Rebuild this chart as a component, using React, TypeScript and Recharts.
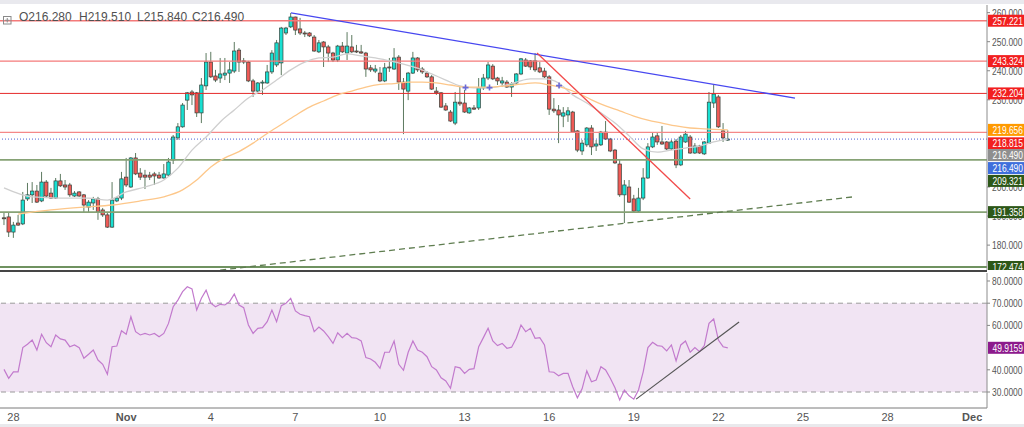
import React from 'react';
import { ComposedChart, Bar, Line, Scatter, XAxis, YAxis, ReferenceLine, ReferenceArea } from 'recharts';

// 4h candles, index 0 = Oct 27 16:00
const OPEN = [
  189.4, 189.7, 184.5, 187.6, 187.3, 195.9, 197.3, 198.6, 195.2, 201.7,
  197.9, 196.2, 202.1, 200.7, 200.7, 196.9, 198.3, 197.3, 193.1, 194.5,
  195.9, 192.1, 190.4, 186.2, 195.2, 196.2, 203.4, 200.0, 210.0, 204.8,
  204.1, 204.1, 204.5, 204.1, 203.1, 204.1, 209.3, 216.9, 220.7, 229.9,
  232.7, 232.4, 225.5, 234.8, 243.0, 238.2, 237.5, 238.5, 239.2, 239.9,
  247.1, 243.4, 243.0, 236.5, 233.0, 235.8, 235.8, 239.6, 242.0, 242.7,
  253.0, 255.1, 258.5, 254.4, 253.0, 253.0, 251.6, 246.5, 249.9, 248.2,
  246.1, 243.7, 248.5, 246.1, 248.2, 246.8, 246.5, 246.1, 241.0, 239.9,
  239.2, 236.5, 241.3, 240.6, 244.7, 236.1, 233.0, 239.2, 244.4, 240.6,
  239.2, 237.9, 233.0, 232.4, 227.9, 225.8, 222.0, 229.2, 228.9, 225.5,
  227.2, 227.2, 234.1, 237.5, 241.6, 237.5, 235.8, 236.1, 234.4, 235.8,
  238.9, 243.7, 243.4, 243.4, 241.0, 239.9, 237.9, 226.8, 226.5, 224.4,
  224.8, 225.8, 219.3, 212.4, 214.5, 220.3, 214.1, 214.5, 218.9, 216.5,
  212.7, 207.9, 197.3, 200.0, 195.9, 191.7, 196.2, 203.1, 213.8, 217.6,
  215.5, 215.5, 213.1, 215.8, 207.6, 215.5, 217.2, 211.7, 214.1, 211.4,
  215.1, 228.9, 231.0, 219.3, 216.28,
];
const HIGH = [
  191.1, 191.1, 188.0, 190.4, 198.3, 201.4, 201.7, 200.7, 205.2, 202.4,
  199.7, 203.1, 204.5, 202.4, 201.4, 198.6, 198.6, 197.6, 195.5, 196.6,
  196.6, 192.8, 191.1, 201.7, 196.6, 205.2, 210.0, 210.3, 211.7, 206.5,
  205.9, 205.2, 205.2, 205.2, 207.9, 210.0, 217.9, 222.0, 228.9, 232.7,
  233.4, 232.7, 237.5, 246.1, 246.5, 240.3, 244.4, 244.4, 243.0, 249.9,
  247.8, 244.4, 243.4, 237.2, 236.1, 236.8, 242.0, 247.1, 250.6, 255.1,
  255.1, 259.9, 258.6, 258.2, 253.7, 253.3, 252.3, 250.6, 250.2, 248.9,
  246.5, 248.9, 249.9, 253.3, 252.3, 248.9, 248.9, 246.5, 242.0, 242.0,
  241.3, 242.7, 244.4, 247.8, 245.4, 237.5, 239.6, 246.5, 244.7, 241.3,
  239.9, 238.5, 234.4, 232.7, 228.9, 226.5, 232.7, 234.4, 233.4, 227.5,
  228.2, 237.5, 238.9, 243.0, 242.3, 237.9, 237.9, 236.8, 236.1, 239.2,
  244.4, 244.4, 243.7, 246.1, 243.0, 241.0, 238.5, 230.6, 228.2, 227.5,
  227.5, 226.2, 219.6, 216.2, 220.6, 221.3, 216.2, 219.3, 222.7, 216.9,
  213.1, 209.3, 202.4, 202.4, 197.3, 199.7, 206.5, 215.1, 218.9, 218.9,
  221.0, 215.8, 216.2, 216.5, 217.9, 219.3, 217.9, 215.1, 214.5, 215.8,
  232.7, 235.1, 231.7, 222.0, 219.51,
];
const LOW = [
  186.9, 182.8, 182.5, 186.6, 186.9, 195.2, 194.5, 194.5, 194.8, 196.2,
  195.9, 195.9, 200.0, 199.0, 196.6, 196.6, 196.6, 191.1, 191.4, 192.1,
  188.7, 189.7, 185.9, 185.9, 194.8, 195.5, 200.0, 199.7, 204.1, 202.4,
  199.3, 202.4, 200.7, 202.8, 202.9, 203.8, 207.9, 216.2, 220.4, 226.5,
  228.2, 224.1, 222.0, 233.4, 237.5, 236.1, 235.8, 236.8, 235.8, 239.2,
  239.6, 242.3, 236.1, 231.0, 232.4, 231.7, 235.5, 238.9, 241.3, 238.5,
  252.3, 254.7, 252.3, 252.3, 251.6, 251.6, 246.5, 246.1, 241.3, 243.0,
  243.0, 243.0, 246.1, 243.7, 246.1, 246.1, 245.8, 237.9, 239.6, 239.2,
  236.1, 236.1, 239.6, 240.3, 233.4, 218.2, 229.9, 238.9, 239.6, 238.9,
  237.5, 233.4, 231.7, 227.2, 226.2, 222.4, 221.3, 227.9, 225.5, 225.2,
  226.5, 226.5, 233.4, 236.8, 236.8, 235.1, 234.4, 234.1, 231.0, 235.5,
  238.5, 241.3, 240.3, 239.6, 239.2, 237.5, 224.8, 225.5, 215.1, 220.6,
  222.4, 218.6, 212.0, 211.0, 213.8, 211.0, 212.4, 214.1, 216.2, 212.0,
  207.9, 196.6, 187.6, 194.5, 191.1, 191.4, 195.5, 202.8, 213.4, 214.5,
  214.5, 212.7, 212.7, 206.5, 207.2, 215.2, 211.4, 211.4, 211.4, 211.0,
  214.8, 227.2, 220.3, 215.5, 215.84,
];
const CLOSE = [
  189.3, 184.5, 186.9, 186.9, 195.5, 197.3, 198.6, 194.8, 201.7, 196.9,
  196.2, 202.1, 200.4, 200.0, 197.3, 197.9, 196.9, 193.8, 194.8, 195.9,
  191.4, 190.4, 186.2, 195.5, 196.2, 202.8, 200.7, 210.0, 204.5, 203.4,
  203.4, 203.4, 203.8, 203.1, 204.5, 208.6, 217.2, 220.7, 228.2, 232.4,
  231.7, 225.5, 235.1, 243.0, 237.9, 236.8, 238.9, 239.2, 240.3, 246.8,
  243.0, 243.0, 236.5, 233.0, 235.8, 236.1, 239.6, 246.1, 249.6, 254.7,
  254.7, 258.5, 254.0, 253.0, 252.7, 252.0, 246.8, 249.6, 248.2, 246.1,
  243.7, 248.5, 246.5, 248.5, 246.5, 246.5, 246.1, 240.6, 240.3, 240.6,
  236.5, 241.0, 241.0, 244.4, 236.1, 233.7, 239.2, 244.4, 240.3, 239.6,
  237.9, 233.7, 232.4, 227.5, 226.5, 222.7, 229.2, 228.6, 225.8, 227.2,
  226.8, 234.1, 237.5, 242.0, 237.2, 236.5, 236.5, 234.4, 235.5, 238.9,
  244.1, 241.6, 241.3, 240.3, 239.6, 237.9, 226.8, 226.2, 224.8, 225.5,
  226.2, 218.9, 212.7, 215.1, 220.3, 213.8, 214.8, 218.9, 216.5, 212.4,
  208.3, 197.3, 200.7, 194.8, 191.7, 196.2, 203.1, 213.8, 217.2, 215.5,
  214.8, 213.1, 215.5, 207.6, 217.2, 218.2, 211.7, 214.1, 211.7, 215.5,
  229.2, 232.0, 220.7, 216.9, 216.49,
];

const RSI = [
  40.2, 36.2, 39.1, 39.1, 50.0, 51.5, 53.4, 48.9, 56.0, 52.2,
  50.4, 55.7, 53.9, 53.4, 50.4, 51.2, 50.0, 45.2, 47.0, 48.9,
  44.4, 42.5, 38.0, 50.4, 50.7, 57.6, 56.0, 63.9, 57.2, 55.7,
  56.4, 55.7, 56.4, 54.9, 56.4, 60.9, 68.4, 71.4, 75.2, 77.4,
  76.4, 66.9, 72.2, 75.9, 70.0, 68.4, 69.5, 69.2, 70.7, 74.1,
  69.2, 68.0, 60.2, 56.4, 58.7, 59.0, 61.7, 66.9, 61.7, 68.9,
  70.0, 72.2, 66.5, 65.0, 64.4, 63.9, 57.2, 59.3, 57.5, 54.9,
  51.9, 56.7, 54.5, 56.4, 54.5, 54.2, 53.0, 45.5, 44.9, 43.4,
  40.7, 47.9, 47.9, 53.0, 42.5, 39.8, 47.9, 53.0, 48.9, 47.9,
  45.9, 41.4, 39.9, 36.4, 35.0, 31.7, 41.4, 40.9, 38.4, 40.2,
  40.5, 50.4, 54.5, 58.7, 53.0, 50.9, 51.9, 49.7, 50.2, 54.2,
  60.2, 57.2, 58.7, 54.2, 54.5, 51.2, 39.1, 38.9, 37.3, 38.4,
  38.4, 32.4, 27.4, 31.4, 39.5, 34.6, 35.4, 41.4, 39.9, 36.2,
  31.9, 26.4, 30.9, 28.3, 26.8, 30.9, 39.1, 50.0, 52.4, 50.9,
  50.6, 48.5, 51.2, 44.0, 51.2, 53.0, 47.9, 50.0, 48.2, 50.9,
  60.9, 62.9, 53.4, 50.4, 49.9,
];

// moving averages read at every few candles
const MA20_AT = [0, 6, 12, 18, 22, 26, 30, 34, 37, 40, 43, 46, 49, 52, 55, 58, 61, 64, 67, 70, 73, 76, 79, 82, 85, 88, 91, 94, 97, 100, 103, 106, 109, 112, 115, 118, 121, 124, 127, 130, 133, 136, 139, 142, 145, 148, 151, 154];
const MA20 = [199.7, 196.6, 196.2, 196.2, 195.5, 198.3, 200.0, 202.4, 206.5, 212.7, 217.2, 222.4, 226.5, 230.6, 233.4, 236.8, 240.3, 243.0, 244.4, 244.7, 245.8, 245.1, 244.4, 243.4, 242.3, 240.9, 238.9, 236.8, 234.8, 234.1, 234.1, 234.8, 236.1, 237.2, 237.2, 235.8, 231.7, 228.9, 225.5, 222.0, 217.6, 213.1, 212.0, 212.7, 213.4, 214.1, 215.5, 216.5];
const MA50_AT = [3, 10, 17, 23, 29, 34, 38, 41, 44, 47, 50, 53, 56, 59, 62, 65, 68, 71, 74, 77, 80, 83, 86, 89, 92, 95, 98, 101, 104, 107, 110, 113, 116, 119, 122, 125, 128, 131, 134, 137, 140, 143, 146, 149, 154];
const MA50 = [190.7, 192.1, 193.1, 193.8, 195.2, 196.6, 199.0, 202.4, 206.9, 210.0, 212.2, 215.1, 218.4, 221.5, 224.6, 227.5, 229.6, 231.7, 233.0, 234.4, 235.3, 235.6, 236.1, 236.1, 235.8, 235.1, 234.4, 234.4, 234.4, 234.8, 235.4, 235.8, 235.1, 234.1, 232.4, 230.0, 227.9, 226.2, 224.4, 223.0, 222.0, 221.0, 220.3, 220.0, 219.66];
const CROSS_AT = [98.2, 103.3, 118.1];
const CROSS_PRICE = [234.2, 234.2, 234.9];

const DAY_TICKS = [2, 26, 44, 62, 80, 98, 116, 134, 152, 170, 188, 206];
const DAY_LABELS = ['28', 'Nov', '4', '7', '10', '13', '16', '19', '22', '25', '28', 'Dec'];
const PRICE_TICKS = [180, 190, 200, 230, 240, 250, 260];
const RSI_TICKS = [30, 40, 60, 70, 80];

const RED_LEVELS = [257.221, 243.324, 232.204, 218.815];
const GREEN_LEVELS = [209.321, 191.358, 172.474];
const LAST_PRICE = 216.49;
const MA20_LAST = 216.49;
const MA50_LAST = 219.656;
const RSI_LAST = 49.9159;

// drawn trend lines: [candle index, value]
const TREND_BLUE = [[61.06, 259.9], [168.3, 230.6]];
const TREND_RED = [[113.4, 246.1], [146.0, 195.9]];
const TREND_SUPPORT = [[46.0, 171.4], [180.6, 196.6]];
const TREND_RSI = [[134.5, 26.8], [156.4, 61.5]];

const FONT = '"Liberation Sans", Arial, sans-serif';
const X_DOMAIN = [-0.85, 209.15];
const PRICE_DOMAIN = [171.44, 262.63];
const RSI_DOMAIN = [22.8, 83.6];
const UP = '#18e0d2';
const DOWN = '#f05a56';
const WICK = '#5d7a60';

const candles = OPEN.map((o, k) => ({ i: k, open: o, high: HIGH[k], low: LOW[k], close: CLOSE[k], range: [LOW[k], HIGH[k]] }));
const ma20Data = MA20_AT.map((i, k) => ({ i, v: MA20[k] }));
const ma50Data = MA50_AT.map((i, k) => ({ i, v: MA50[k] }));
const crossData = CROSS_AT.map((i, k) => ({ i, p: CROSS_PRICE[k] }));
const rsiData = RSI.map((v, k) => ({ i: k, rsi: v }));
const seg = (s: number[][]) => s.map(([x, y]) => ({ x, y }));

const Candle = (props: any) => {
  const { x, y, width, height, payload } = props;
  if (!payload) return null;
  const { open, close, high, low } = payload;
  const top = Math.min(y, y + height);
  const h = Math.abs(height);
  const ratio = high > low ? h / (high - low) : 0;
  const at = (v: number) => top + (high - v) * ratio;
  const cx = x + width / 2;
  const bTop = at(Math.max(open, close));
  const bBot = at(Math.min(open, close));
  return (
    <g>
      <line x1={cx} x2={cx} y1={top} y2={top + h} stroke={WICK} strokeWidth={1} />
      <rect x={cx - 1.7} y={bTop} width={3.4} height={Math.max(1, bBot - bTop)} fill={close >= open ? UP : DOWN} stroke="#33403a" strokeWidth={0.7} />
    </g>
  );
};

const Cross = (props: any) => {
  const { cx, cy } = props;
  return <path d={`M${cx - 3},${cy}H${cx + 3}M${cx},${cy - 3}V${cy + 3}`} stroke="#6a6ad8" strokeWidth={1.6} />;
};

const makeTag = (text: string, bg: string, dy = 0) => (props: any) => {
  const vb = props.viewBox || {};
  const x = (vb.x || 0) + (vb.width || 0) + 1;
  const y = (vb.y || 0) + dy;
  return (
    <g>
      <rect x={x} y={y - 6} width={37} height={12} fill={bg} />
      <text x={x + 4.5} y={y + 4} fill="#fff" fontSize={10.5} fontFamily={FONT} textLength={30.5} lengthAdjust="spacingAndGlyphs">{text}</text>
    </g>
  );
};

const AxisTick = ({ digits }: { digits: number }) => (props: any) => (
  <text x={props.x} y={props.y + 4} fill="#555" fontSize={10.5} fontFamily={FONT} textLength={30.5} lengthAdjust="spacingAndGlyphs">
    {Number(props.payload.value).toFixed(digits)}
  </text>
);

const DayTick = (props: any) => {
  const label = DAY_LABELS[DAY_TICKS.indexOf(props.payload.value)] || '';
  const month = label === 'Nov' || label === 'Dec';
  return (
    <text x={props.x} y={props.y + 13} textAnchor="middle" fill="#555" fontSize={11} fontWeight={month ? 700 : 400} fontFamily={FONT}>{label}</text>
  );
};

const redStyle = ['#f47a7a', '#f47a7a', '#e52a2a', '#f58888'];
const greenStyle = ['#86a275', '#86a275', '#3f6e2b'];

// invisible axes so the price tags sit above the tick labels
const OverlayAxes = ({ domain }: { domain: number[] }) => (
  <>
    <XAxis type="number" dataKey="i" domain={X_DOMAIN} hide allowDataOverflow />
    <YAxis orientation="right" width={37} domain={domain} allowDataOverflow tick={false} tickLine={false} axisLine={false} />
  </>
);

export default function App() {
  const header = [
    ['O', OPEN[OPEN.length - 1]],
    ['H', HIGH[HIGH.length - 1]],
    ['L', LOW[LOW.length - 1]],
    ['C', CLOSE[CLOSE.length - 1]],
  ];
  const headerX = [19, 79, 137, 192];
  return (
    <div style={{ position: 'absolute', left: 0, top: 0, width: 1024, height: 427, overflow: 'hidden', background: '#fff', fontFamily: FONT }}>
      <div style={{ position: 'absolute', left: 0, top: 0, width: 1024, height: 4, background: '#e9e9ee' }} />
      <div style={{ position: 'absolute', left: 0, top: 0 }}>
        <ComposedChart width={1024} height={270} data={candles} margin={{ top: 5, right: 0, bottom: 0, left: 0 }}>
          <XAxis type="number" dataKey="i" domain={X_DOMAIN} hide allowDataOverflow />
          <YAxis orientation="right" width={37} domain={PRICE_DOMAIN} ticks={PRICE_TICKS} interval={0} allowDataOverflow
            tick={AxisTick({ digits: 3 })} tickSize={3} tickMargin={2} tickLine={{ stroke: '#888' }} axisLine={{ stroke: '#8c8c8c' }} />
          {RED_LEVELS.map((v, k) => (
            <ReferenceLine key={`r${k}`} y={v} stroke={redStyle[k]} strokeWidth={k === 2 ? 1 : 1.4} />
          ))}
          {GREEN_LEVELS.map((v, k) => (
            <ReferenceLine key={`g${k}`} y={v} stroke={greenStyle[k]} strokeWidth={1.6} />
          ))}
          <ReferenceLine y={LAST_PRICE} stroke="#4a63d8" strokeDasharray="1 2" strokeWidth={1} />
          <Line data={ma20Data} dataKey="v" type="monotone" stroke="#cfcfcf" strokeWidth={1.3} dot={false} activeDot={false} isAnimationActive={false} />
          <Line data={ma50Data} dataKey="v" type="monotone" stroke="#fdc78a" strokeWidth={1.3} dot={false} activeDot={false} isAnimationActive={false} />
          <Bar dataKey="range" barSize={4} isAnimationActive={false} shape={(p: any) => <Candle {...p} />} />
          <Scatter data={crossData} dataKey="p" shape={(p: any) => <Cross {...p} />} isAnimationActive={false} />
          <ReferenceLine segment={seg(TREND_BLUE)} stroke="#4747f0" strokeWidth={1.3} ifOverflow="hidden" />
          <ReferenceLine segment={seg(TREND_RED)} stroke="#f24a4a" strokeWidth={1.3} ifOverflow="hidden" />
          <ReferenceLine segment={seg(TREND_SUPPORT)} stroke="#5f7d50" strokeWidth={1.3} strokeDasharray="6 4" ifOverflow="hidden" />
        </ComposedChart>
      </div>
      <div style={{ position: 'absolute', left: 0, top: 0 }}>
        <ComposedChart width={1024} height={270} data={candles} margin={{ top: 5, right: 0, bottom: 0, left: 0 }}>
          {OverlayAxes({ domain: PRICE_DOMAIN })}
          <ReferenceLine y={RED_LEVELS[0]} stroke="none" label={makeTag(RED_LEVELS[0].toFixed(3), '#f21f1f')} />
          <ReferenceLine y={RED_LEVELS[1]} stroke="none" label={makeTag(RED_LEVELS[1].toFixed(3), '#f21f1f')} />
          <ReferenceLine y={RED_LEVELS[2]} stroke="none" label={makeTag(RED_LEVELS[2].toFixed(3), '#f21f1f')} />
          <ReferenceLine y={MA50_LAST} stroke="none" label={makeTag(MA50_LAST.toFixed(3), '#ff9a00')} />
          <ReferenceLine y={RED_LEVELS[3]} stroke="none" label={makeTag(RED_LEVELS[3].toFixed(3), '#f21f1f', 11)} />
          <ReferenceLine y={MA20_LAST} stroke="none" label={makeTag(MA20_LAST.toFixed(3), '#8f8f8f', 16)} />
          <ReferenceLine y={LAST_PRICE} stroke="none" label={makeTag(LAST_PRICE.toFixed(3), '#3f6fdc', 29)} />
          <ReferenceLine y={GREEN_LEVELS[0]} stroke="none" label={makeTag(GREEN_LEVELS[0].toFixed(3), '#2d5718', 21)} />
          <ReferenceLine y={GREEN_LEVELS[1]} stroke="none" label={makeTag(GREEN_LEVELS[1].toFixed(3), '#2d5718')} />
          <ReferenceLine y={GREEN_LEVELS[2]} stroke="none" label={makeTag(GREEN_LEVELS[2].toFixed(3), '#2d5718')} />
        </ComposedChart>
      </div>
      <div style={{ position: 'absolute', left: 3, top: 11, width: 8, height: 8 }}>
        <svg width={9} height={9}>
          <rect x={0.5} y={0.5} width={7.5} height={7.5} fill="none" stroke="#8a8a8a" />
          <path d="M4.25,2V6.5M2,4.25H6.5" stroke="#8a8a8a" />
        </svg>
      </div>
      {header.map(([k, v], n) => (
        <div key={String(k)} style={{ position: 'absolute', left: headerX[n], top: 10, fontSize: 12, lineHeight: '14px', color: '#505050', whiteSpace: 'nowrap' }}>
          {k}{Number(v).toFixed(3)}
        </div>
      ))}
      <div style={{ position: 'absolute', left: 0, top: 270, width: 987, height: 2, background: '#454545' }} />
      <div style={{ position: 'absolute', left: 0, top: 272 }}>
        <ComposedChart width={1024} height={155} data={rsiData} margin={{ top: 1, right: 0, bottom: 0, left: 0 }}>
          <XAxis type="number" dataKey="i" domain={X_DOMAIN} ticks={DAY_TICKS} interval={0} allowDataOverflow height={19}
            tick={DayTick} tickLine={false} tickSize={0} tickMargin={0} axisLine={{ stroke: '#7a7a7a' }} />
          <YAxis orientation="right" width={37} domain={RSI_DOMAIN} ticks={RSI_TICKS} interval={0} allowDataOverflow
            tick={AxisTick({ digits: 4 })} tickSize={3} tickMargin={2} tickLine={{ stroke: '#888' }} axisLine={{ stroke: '#8c8c8c' }} />
          <ReferenceArea y1={30} y2={70} fill="#f1e4f3" fillOpacity={1} stroke="none" />
          <ReferenceLine y={70} stroke="#9a9a9a" strokeDasharray="5 4" />
          <ReferenceLine y={30} stroke="#9a9a9a" strokeDasharray="5 4" />
          <Line dataKey="rsi" type="linear" stroke="#c27acd" strokeWidth={1.2} dot={false} activeDot={false} isAnimationActive={false} />
          <ReferenceLine segment={seg(TREND_RSI)} stroke="#555" strokeWidth={1.2} ifOverflow="hidden" />
          <ReferenceLine y={RSI_LAST} stroke="none" label={makeTag(RSI_LAST.toFixed(4), '#8c1a8c')} />
        </ComposedChart>
      </div>
      <div style={{ position: 'absolute', left: 0, top: 424, width: 1024, height: 3, background: '#e9e9ec' }} />
    </div>
  );
}
